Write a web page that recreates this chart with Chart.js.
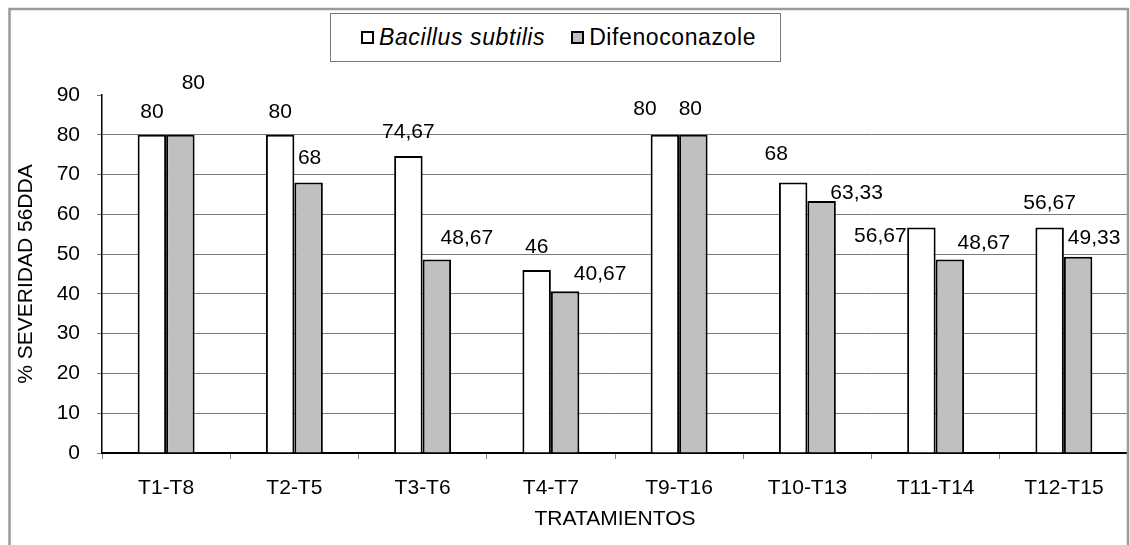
<!DOCTYPE html>
<html>
<head>
<meta charset="utf-8">
<script src="https://cdn.jsdelivr.net/npm/chart.js@4.4.1/dist/chart.umd.min.js"></script>
<style>
  html, body { margin: 0; padding: 0; background: #fff; overflow: hidden; }
  #wrap { position: relative; width: 1130px; height: 545px; }
  #chart { position: absolute; left: 0; top: 0; }
  #legend {
    position: absolute; left: 330px; top: 13px; width: 419px; height: 47px;
    border: 1px solid #7a7a7a; background: #fff;
    display: flex; align-items: center; justify-content: flex-start;
    font-family: "Liberation Sans", Arial, sans-serif; font-size: 23px;
    letter-spacing: 0.6px; color: #000; padding-left: 30px; box-sizing: content-box;
  }
  #legend .item { display: flex; align-items: center; }
  #legend .item + .item { margin-left: 26px; }
  #legend .sw { width: 9px; height: 9px; border: 2px solid #000; margin-right: 5px; }
</style>
</head>
<body>
<div id="wrap">
  <canvas id="chart" width="1130" height="545"></canvas>
  <div id="legend"></div>
</div>
<script>
// Treatment pairs on the category axis
const categories = ['T1-T8', 'T2-T5', 'T3-T6', 'T4-T7', 'T9-T16', 'T10-T13', 'T11-T14', 'T12-T15'];

// Severity (%) at 56 days after application
const bacillus = [80, 80, 74.67, 46, 80, 68, 56.67, 56.67];
const difenoconazole = [80, 68, 48.67, 40.67, 80, 63.33, 48.67, 49.33];

const seriesNames = ['Bacillus subtilis', 'Difenoconazole'];
const yTicks = [0, 10, 20, 30, 40, 50, 60, 70, 80, 90];
const xTitle = 'TRATAMIENTOS';
const yTitle = '% SEVERIDAD 56DDA';

// Hand-placed value labels: shift from the top-centre of each bar (px)
const labelShift = [
  [[0, -23], [0, -23], [0, -24], [0, -23], [-20, -26], [-17, -28], [-41, 9], [0, -24]],
  [[13, -52], [1, -24], [30, -21], [35, -17], [-3, -26], [35, -8], [34, -16], [16, -19]]
];

const FONT = '"Liberation Sans", Arial, sans-serif';
Chart.defaults.font.family = FONT;
Chart.defaults.color = '#000';

const frame = {
  id: 'frame',
  beforeDraw(chart) {
    const c = chart.ctx;
    c.save();
    c.fillStyle = '#fff';
    c.fillRect(0, 0, chart.width, chart.height);
    c.restore();
  },
  afterDraw(chart) {
    const c = chart.ctx;
    c.save();
    c.strokeStyle = '#9a9a9a';
    c.lineWidth = 2.5;
    c.strokeRect(9.5, 9, 1118.5, 580);
    c.restore();
  }
};

const valueLabels = {
  id: 'valueLabels',
  afterDatasetsDraw(chart) {
    const c = chart.ctx;
    c.save();
    c.font = '21px ' + FONT;
    c.fillStyle = '#000';
    c.textAlign = 'center';
    c.textBaseline = 'middle';
    chart.data.datasets.forEach((ds, i) => {
      const meta = chart.getDatasetMeta(i);
      meta.data.forEach((bar, j) => {
        const [dx, dy] = labelShift[i][j];
        const text = String(ds.data[j]).replace('.', ',');
        c.fillText(text, bar.x + dx, bar.y + dy);
      });
    });
    c.restore();
  }
};

const barStyle = { borderColor: '#000', borderWidth: 2, categoryPercentage: 0.444, barPercentage: 1 };

const chart = new Chart(document.getElementById('chart'), {
  type: 'bar',
  data: {
    labels: categories,
    datasets: [
      Object.assign({ label: seriesNames[0], data: bacillus, backgroundColor: '#ffffff', italic: true }, barStyle),
      Object.assign({ label: seriesNames[1], data: difenoconazole, backgroundColor: '#c0c0c0', italic: false }, barStyle)
    ]
  },
  options: {
    responsive: false,
    animation: false,
    devicePixelRatio: 1,
    layout: { padding: { top: 95, right: 2, left: 0, bottom: 0 } },
    plugins: { legend: { display: false }, tooltip: { enabled: false } },
    scales: {
      x: {
        grid: { display: true, drawOnChartArea: false, drawTicks: true, tickLength: 6, color: '#808080', offset: true },
        border: { color: '#000', width: 2 },
        ticks: { color: '#000', font: { size: 21 }, padding: 17, maxRotation: 0, autoSkip: false },
        title: { display: true, text: xTitle, color: '#000', font: { size: 21 }, padding: { top: 0, bottom: 13 } },
        afterFit(s) { s.height = 92; }
      },
      y: {
        min: yTicks[0],
        max: yTicks[yTicks.length - 1],
        afterBuildTicks(s) { s.ticks = yTicks.map(v => ({ value: v })); },
        ticks: { color: '#000', font: { size: 21 }, padding: 17 },
        grid: {
          color: (ctx) => (ctx.tick && ctx.tick.value === yTicks[yTicks.length - 1]) ? 'rgba(0,0,0,0)' : '#7a7a7a',
          tickColor: '#7a7a7a',
          tickLength: 5,
          lineWidth: 1
        },
        border: { color: '#000', width: 1.5 },
        title: { display: true, text: yTitle, color: '#000', font: { size: 21 }, padding: { top: 14, bottom: 0 } },
        afterFit(s) { s.width = 102; }
      }
    }
  },
  plugins: [frame, valueLabels]
});

// Legend built from the chart's own datasets
const legend = document.getElementById('legend');
chart.data.datasets.forEach(ds => {
  const item = document.createElement('div');
  item.className = 'item';
  const sw = document.createElement('span');
  sw.className = 'sw';
  sw.style.background = ds.backgroundColor;
  const txt = document.createElement('span');
  txt.textContent = ds.label;
  if (ds.italic) txt.style.fontStyle = 'italic';
  item.appendChild(sw);
  item.appendChild(txt);
  legend.appendChild(item);
});
</script>
</body>
</html>
